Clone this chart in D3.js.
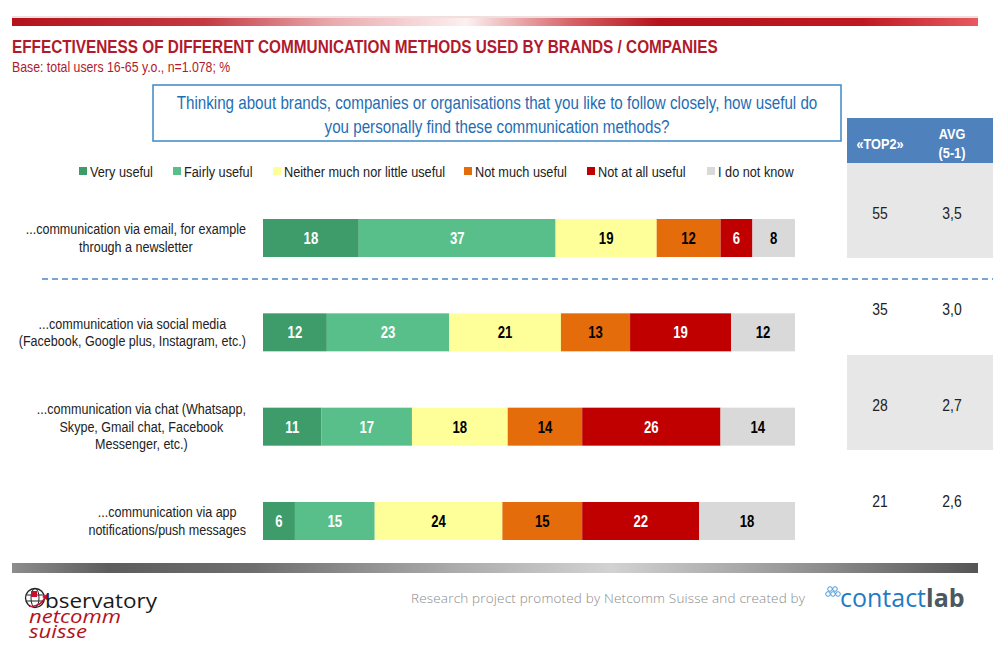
<!DOCTYPE html>
<html>
<head>
<meta charset="utf-8">
<script src="https://cdn.jsdelivr.net/npm/d3@7"></script>
<style>
  body { margin: 0; background: white; }
  svg { display: block; font-family: "Liberation Sans", Arial, sans-serif; }
</style>
</head>
<body>
<svg id="chart"></svg>
<script>
const categories = [
  ["...communication via email, for example", "through a newsletter"],
  ["...communication via social media", "(Facebook, Google plus, Instagram, etc.)"],
  ["...communication via chat (Whatsapp,", "Skype, Gmail chat, Facebook", "Messenger, etc.)"],
  ["...communication via app", "notifications/push messages"]
]
const seriesNames = ["Very useful", "Fairly useful", "Neither much nor little useful", "Not much useful", "Not at all useful", "I do not know"]
const veryUseful = [18, 12, 11, 6]
const fairlyUseful = [37, 23, 17, 15]
const neither = [19, 21, 18, 24]
const notMuch = [12, 13, 14, 15]
const notAtAll = [6, 19, 26, 22]
const dontKnow = [8, 12, 14, 18]
const top2 = ["55", "35", "28", "21"]
const avg = ["3,5", "3,0", "2,7", "2,6"]

const colors = ["#3d9c6a", "#58bf8b", "#ffff99", "#e46c0a", "#c00000", "#d9d9d9"]
const textColors = ["white", "white", "black", "black", "white", "black"]

const w = 1000
const h = 652
const svg = d3.select("#chart").attr("width", w).attr("height", h)

// no Arial Narrow here: squeeze Arial-metric text horizontally
const NARROW = 0.82
const narrow = (sel) =>
  sel.each(function () {
    const len = this.getComputedTextLength()
    d3.select(this).attr("textLength", len * NARROW).attr("lengthAdjust", "spacingAndGlyphs")
  })

const keys = ["s0", "s1", "s2", "s3", "s4", "s5"]
const seriesValues = [veryUseful, fairlyUseful, neither, notMuch, notAtAll, dontKnow]
const rows = categories.map((c, i) => {
  const r = { id: i }
  keys.forEach((k, j) => (r[k] = seriesValues[j][i]))
  return r
})

const defs = svg.append("defs")
const redGrad = defs.append("linearGradient").attr("id", "redGrad")
;[[0, "#b4121c"], [0.2, "#c43a42"], [0.33, "#e9a9ac"], [0.47, "#fdf0f0"], [0.58, "#d66166"], [0.67, "#b5121b"], [0.88, "#c01820"], [1, "#e65a60"]]
  .forEach(([o, c]) => redGrad.append("stop").attr("offset", o).attr("stop-color", c))
const grayGrad = defs.append("linearGradient").attr("id", "grayGrad")
;[[0, "#8d8d8d"], [0.1, "#5d5d5d"], [0.25, "#6e6e6e"], [0.45, "#a9a9a9"], [0.62, "#d2d2d2"], [0.8, "#9a9a9a"], [1, "#555"]]
  .forEach(([o, c]) => grayGrad.append("stop").attr("offset", o).attr("stop-color", c))

// header band
svg.append("rect").attr("x", 12).attr("y", 16).attr("width", 966).attr("height", 2).attr("fill", "#f1dede")
svg.append("rect").attr("x", 12).attr("y", 18).attr("width", 966).attr("height", 8).attr("fill", "url(#redGrad)")

svg.append("text").attr("x", 12).attr("y", 53)
  .attr("font-size", 18.7).attr("font-weight", "bold").attr("fill", "#b01a2c")
  .text("EFFECTIVENESS OF DIFFERENT COMMUNICATION METHODS USED BY BRANDS / COMPANIES")
  .call(narrow)
svg.append("text").attr("x", 12).attr("y", 72)
  .attr("font-size", 15).attr("fill", "#b01a2c")
  .text("Base: total users 16-65 y.o., n=1.078; %")
  .call(narrow)

// question box
svg.append("rect").attr("x", 153).attr("y", 85).attr("width", 688).attr("height", 56)
  .attr("fill", "white").attr("stroke", "#3d87c7").attr("stroke-width", 1.5)
svg.append("text").attr("x", 497).attr("y", 109).attr("text-anchor", "middle")
  .attr("font-size", 18.5).attr("fill", "#1f6db3")
  .text("Thinking about brands, companies or organisations that you like to follow closely, how useful do")
  .call(narrow)
svg.append("text").attr("x", 497).attr("y", 133).attr("text-anchor", "middle")
  .attr("font-size", 18.5).attr("fill", "#1f6db3")
  .text("you personally find these communication methods?")
  .call(narrow)

// legend
const legendX = [79, 173, 273, 464, 587, 707]
const legend = svg.append("g").attr("id", "legend")
seriesNames.forEach((name, i) => {
  legend.append("rect").attr("x", legendX[i]).attr("y", 167).attr("width", 8).attr("height", 8).attr("fill", colors[i])
  legend.append("text").attr("x", legendX[i] + 11).attr("y", 177).attr("font-size", 15.5).attr("fill", "#222")
    .text(name).call(narrow)
})

// scales
const xScale = d3.scaleLinear().domain([0, 100]).range([263, 795])
const yScale = d3.scalePoint().domain(d3.range(categories.length)).range([238, 521])
const tableScale = d3.scaleBand().domain(d3.range(categories.length)).range([163, 547])
const barH = 38

// table
svg.append("rect").attr("x", 847).attr("y", 118).attr("width", 146).attr("height", 45).attr("fill", "#4f81bd")
svg.append("text").attr("x", 880).attr("y", 149).attr("text-anchor", "middle").attr("font-size", 15.5)
  .attr("font-weight", "bold").attr("fill", "white").text("«TOP2»").call(narrow)
svg.append("text").attr("x", 952).attr("y", 139).attr("text-anchor", "middle").attr("font-size", 15.5)
  .attr("font-weight", "bold").attr("fill", "white").text("AVG").call(narrow)
svg.append("text").attr("x", 952).attr("y", 158).attr("text-anchor", "middle").attr("font-size", 15.5)
  .attr("font-weight", "bold").attr("fill", "white").text("(5-1)").call(narrow)

svg.selectAll(".tbg").data(d3.range(categories.length).filter((i) => i % 2 === 0)).enter()
  .append("rect").attr("class", "tbg")
  .attr("x", 847).attr("y", (i) => tableScale(i)).attr("width", 146).attr("height", tableScale.bandwidth() - 1)
  .attr("fill", "#e7e7e7")
svg.selectAll(".top2").data(top2).enter().append("text").attr("class", "top2")
  .attr("x", 880).attr("y", (d, i) => tableScale(i) + tableScale.bandwidth() / 2 + 8)
  .attr("text-anchor", "middle").attr("font-size", 17).attr("fill", "#222").text((d) => d).call(narrow)
svg.selectAll(".avg").data(avg).enter().append("text").attr("class", "avg")
  .attr("x", 952).attr("y", (d, i) => tableScale(i) + tableScale.bandwidth() / 2 + 8)
  .attr("text-anchor", "middle").attr("font-size", 17).attr("fill", "#222").text((d) => d).call(narrow)

// dashed separator
svg.append("line").attr("x1", 42).attr("x2", 993).attr("y1", 279).attr("y2", 279)
  .attr("stroke", "#4f86c6").attr("stroke-width", 1.5).attr("stroke-dasharray", "6,4")

// stacked bars
const stack = d3.stack().keys(keys)(rows)
const layers = svg.selectAll(".layer").data(stack).enter().append("g").attr("class", "layer")
  .attr("fill", (d, i) => colors[i])
layers.selectAll("rect").data((d) => d).enter().append("rect")
  .attr("x", (d) => xScale(d[0]))
  .attr("y", (d) => yScale(d.data.id) - barH / 2)
  .attr("width", (d) => xScale(d[1]) - xScale(d[0]))
  .attr("height", barH)
layers.each(function (layer, li) {
  d3.select(this).selectAll("text").data(layer).enter().append("text")
    .attr("x", (d) => (xScale(d[0]) + xScale(d[1])) / 2)
    .attr("y", (d) => yScale(d.data.id) + 6)
    .attr("text-anchor", "middle").attr("font-size", 16).attr("font-weight", "bold")
    .attr("fill", textColors[li])
    .text((d) => d[1] - d[0])
    .call(narrow)
})

// category labels
categories.forEach((lines, i) => {
  const g = svg.append("g")
  const lh = 17.5
  const y0 = yScale(i) - ((lines.length - 1) * lh) / 2 + 5
  const texts = lines.map((t, j) =>
    g.append("text").attr("y", y0 + j * lh).attr("font-size", 15.3).attr("fill", "#222")
      .attr("text-anchor", "middle").text(t))
  const maxW = d3.max(texts, (t) => t.node().getComputedTextLength()) * NARROW
  texts.forEach((t) => t.attr("x", 246 - maxW / 2).call(narrow))
})

// footer
svg.append("rect").attr("x", 12).attr("y", 563).attr("width", 966).attr("height", 10).attr("fill", "url(#grayGrad)")

const logo = svg.append("g").attr("id", "logo")
logo.append("circle").attr("cx", 35).attr("cy", 598).attr("r", 9.5).attr("fill", "none").attr("stroke", "#222").attr("stroke-width", 1.3)
logo.append("ellipse").attr("cx", 35).attr("cy", 598).attr("rx", 4).attr("ry", 9.5).attr("fill", "none").attr("stroke", "#222").attr("stroke-width", 1)
logo.append("line").attr("x1", 26).attr("x2", 44).attr("y1", 595).attr("y2", 595).attr("stroke", "#222").attr("stroke-width", 1)
logo.append("line").attr("x1", 26).attr("x2", 44).attr("y1", 601).attr("y2", 601).attr("stroke", "#222").attr("stroke-width", 1)
logo.append("rect").attr("x", 31).attr("y", 591).attr("width", 6).attr("height", 6).attr("fill", "#c8102e")
logo.append("path").attr("d", "M29,606 Q39,606 44,598 L42,597 L47,594 L47,600 L45,599 Q40,608 29,607 Z").attr("fill", "#c8102e")
logo.append("text").attr("x", 45).attr("y", 608).attr("font-family", "Open Sans, sans-serif").attr("font-size", 20)
  .attr("fill", "#1a1a1a").attr("textLength", 112).attr("lengthAdjust", "spacingAndGlyphs").text("bservatory")
logo.append("text").attr("x", 29).attr("y", 623).attr("font-family", "Open Sans, sans-serif").attr("font-style", "italic")
  .attr("font-size", 19).attr("fill", "#b5121b").attr("textLength", 92).attr("lengthAdjust", "spacingAndGlyphs").text("netcomm")
logo.append("text").attr("x", 29).attr("y", 638).attr("font-family", "Open Sans, sans-serif").attr("font-style", "italic")
  .attr("font-size", 19).attr("fill", "#b5121b").attr("textLength", 58).attr("lengthAdjust", "spacingAndGlyphs").text("suisse")

svg.append("text").attr("x", 411).attr("y", 603).attr("font-family", "Open Sans, sans-serif").attr("font-weight", 300)
  .attr("font-size", 13.5).attr("fill", "#8a8a8a").attr("textLength", 394)
  .text("Research project promoted by Netcomm Suisse and created by")

const cl = svg.append("g").attr("id", "contactlab")
;[[830, 589], [835, 589], [828, 594], [833, 594], [838, 594]].forEach(([x, y]) =>
  cl.append("circle").attr("cx", x).attr("cy", y).attr("r", 2.3).attr("fill", "none").attr("stroke", "#3c8fd0").attr("stroke-width", 0.9))
cl.append("text").attr("x", 840).attr("y", 607).attr("font-family", "Open Sans, sans-serif").attr("font-size", 25)
  .attr("fill", "#1f7cc4").text("contact")
  .append("tspan").attr("font-weight", "bold").attr("fill", "#4a5862").text("lab")
</script>
</body>
</html>
